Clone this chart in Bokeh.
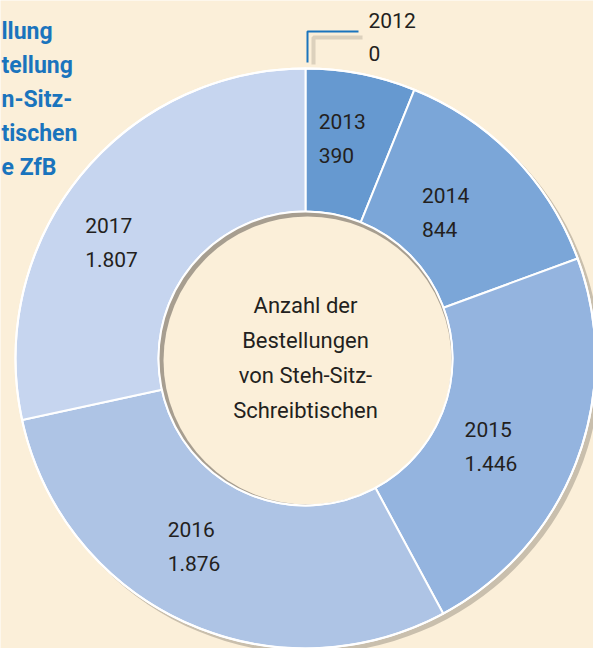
import math
from bokeh.plotting import figure
from bokeh.models import ColumnDataSource, Range1d
from bokeh.embed import file_html
from bokeh.resources import INLINE
from bokeh.core.properties import value

# ---- data ----
years = ["2012", "2013", "2014", "2015", "2016", "2017"]
orders = [0, 390, 844, 1446, 1876, 1807]
value_labels = ["0", "390", "844", "1.446", "1.876", "1.807"]
center_lines = ["Anzahl der", "Bestellungen", "von Steh-Sitz-", "Schreibtischen"]
# heading is cut off at the left edge in the original; only the visible parts are shown
title_lines = ["llung", "tellung", "n-Sitz-", "tischen", "e ZfB"]

# ---- style / layout ----
colors = ["#5b8fcb", "#6699d0", "#7ba6d8", "#94b4df", "#aec4e5", "#c6d5ef"]
label_nudge = [(0, 0), (-3, 9), (-13, -4), (-17, -12), (-23, 7), (-28, -19)]
W, H = 593, 648
BG = "#fbefd9"
TXT = "#231f20"
BLUE = "#1a74bd"
FONT = "Roboto"
cx, cy = 305, 290
R_OUT, R_IN = 290, 147
LABEL_R = 215

p = figure(width=W, height=H, x_range=Range1d(0, W), y_range=Range1d(0, H),
           output_backend="svg", toolbar_location=None, min_border=0,
           x_axis_location=None, y_axis_location=None,
           background_fill_color=BG, border_fill_color=BG, outline_line_color=None)
p.grid.visible = False

total = float(sum(orders))
starts, ends, mids = [], [], []
acc = 0.0
for v in orders:
    starts.append(math.pi / 2 - 2 * math.pi * acc / total)
    mids.append(2 * math.pi * (acc + v / 2.0) / total)
    acc += v
    ends.append(math.pi / 2 - 2 * math.pi * acc / total)

# outer shadow
p.circle(x=[cx + 4], y=[cy - 4], radius=R_OUT + 1, fill_color="#c9bfad", line_color=None)

idx = [i for i, v in enumerate(orders) if v > 0]
src = ColumnDataSource(dict(
    start=[starts[i] for i in idx], end=[ends[i] for i in idx],
    color=[colors[i] for i in idx]))
p.annular_wedge(x=cx, y=cy, inner_radius=R_IN, outer_radius=R_OUT,
                start_angle="start", end_angle="end", direction="clock",
                fill_color="color", line_color="white", line_width=2, source=src)
p.circle(x=[cx], y=[cy], radius=R_OUT, fill_color=None, line_color="white", line_width=2)

# inner circle with inner shadow
p.circle(x=[cx], y=[cy], radius=R_IN, fill_color="#a79e90", line_color=None)
p.circle(x=[cx + 2], y=[cy - 2], radius=R_IN - 3, fill_color=BG, line_color=None)
p.circle(x=[cx], y=[cy], radius=R_IN, fill_color=None, line_color="white", line_width=2)

# segment labels
lx, ly_year, ly_val, yr_txt, val_txt = [], [], [], [], []
for i in idx:
    th = mids[i]
    bx = cx + LABEL_R * math.sin(th) + label_nudge[i][0]
    by = cy + LABEL_R * math.cos(th) + label_nudge[i][1]
    lx.append(bx - 25)
    ly_year.append(by + 17)
    ly_val.append(by - 17)
    yr_txt.append(years[i])
    val_txt.append(value_labels[i])
lab = ColumnDataSource(dict(x=lx + lx, y=ly_year + ly_val, t=yr_txt + val_txt))
p.text(x="x", y="y", text="t", source=lab, text_font=value(FONT), text_font_size="21px",
       text_color=TXT, text_align="left", text_baseline="middle")

# zero slice (2012) with leader line
z = [i for i, v in enumerate(orders) if v == 0]
for i in z:
    ax = cx + R_OUT * math.sin(mids[i]) + 2
    ay = cy + R_OUT * math.cos(mids[i]) + 6
    ey = ay + 31
    ex = ax + 51
    p.line(x=[ax + 6, ax + 6, ex + 4], y=[ay - 2, ey - 6, ey - 6], line_color="#d8cdb9",
           line_width=4, line_alpha=0.9)
    p.line(x=[ax, ax, ex], y=[ay, ey, ey], line_color=BLUE, line_width=2)
    p.text(x=[ex + 10, ex + 10], y=[ey + 11, ey - 22], text=[years[i], value_labels[i]],
           text_font=value(FONT), text_font_size="21px", text_color=TXT,
           text_align="left", text_baseline="middle")

# centre text
n = len(center_lines)
p.text(x=[cx] * n, y=[cy + 53 - 35 * k for k in range(n)], text=center_lines,
       text_font=value(FONT), text_font_size="22px", text_color=TXT,
       text_align="center", text_baseline="middle")

# partially visible blue heading on the left
m = len(title_lines)
p.text(x=[1] * m, y=[617 - 34 * k for k in range(m)], text=title_lines,
       text_font=value(FONT), text_font_size="23px", text_font_style="bold",
       text_color=BLUE, text_align="left", text_baseline="middle")

open("out.html", "w").write(file_html(p, INLINE))
